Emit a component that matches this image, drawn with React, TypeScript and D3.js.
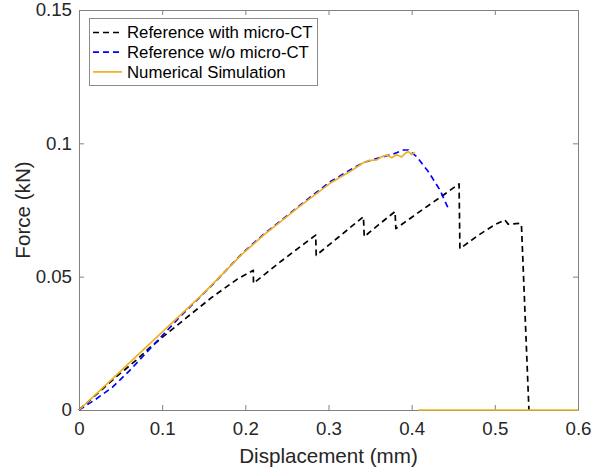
import React, { useRef, useEffect } from "react";
import { select, scaleLinear, line, axisBottom, axisLeft, axisTop, axisRight } from "d3";

// displacement (mm) / force (kN)
const withCtX = [0, 0.02, 0.045, 0.07, 0.084, 0.1, 0.13, 0.16, 0.19, 0.2096, 0.2098, 0.243, 0.2846, 0.2852, 0.31, 0.342, 0.343, 0.36, 0.38, 0.381, 0.41, 0.44, 0.457, 0.458, 0.48, 0.5, 0.512, 0.516, 0.53, 0.532, 0.541];
const withCtF = [0, 0.0056, 0.0125, 0.019, 0.0231, 0.0272, 0.0348, 0.0423, 0.049, 0.0524, 0.0475, 0.0558, 0.0656, 0.058, 0.0643, 0.0725, 0.065, 0.0694, 0.0744, 0.068, 0.0745, 0.081, 0.0848, 0.0605, 0.0655, 0.0695, 0.0713, 0.0697, 0.07, 0.0695, 0];

const noCtX = [0, 0.02, 0.04, 0.06, 0.09, 0.12, 0.16, 0.1955, 0.2216, 0.25, 0.2617, 0.302, 0.326, 0.342, 0.36, 0.378, 0.39, 0.396, 0.406, 0.42, 0.434, 0.444];
const noCtF = [0, 0.004, 0.0085, 0.0145, 0.0245, 0.0345, 0.0468, 0.0585, 0.0658, 0.0728, 0.0758, 0.0856, 0.09, 0.0928, 0.0945, 0.096, 0.0975, 0.0975, 0.095, 0.0894, 0.0825, 0.0756];

const simX = [0, 0.05, 0.1, 0.15, 0.1955, 0.2216, 0.25, 0.2617, 0.3018, 0.3258, 0.342, 0.348, 0.358, 0.364, 0.37, 0.376, 0.382, 0.388, 0.392, 0.396, 0.4, 0.404];
const simF = [0, 0.0146, 0.0292, 0.0438, 0.0583, 0.0655, 0.0725, 0.0755, 0.085, 0.0894, 0.0927, 0.0935, 0.0938, 0.095, 0.0956, 0.0946, 0.0957, 0.0949, 0.0962, 0.0969, 0.0958, 0.0966];
const simTailX = [0.408, 0.6];
const simTailF = [0, 0];

const xTicks = [0, 0.1, 0.2, 0.3, 0.4, 0.5, 0.6];
const yTicks = [0, 0.05, 0.1, 0.15];

const series = [
  { name: "Reference with micro-CT", color: "#000000", dash: "6,4", parts: [[withCtX, withCtF]] },
  { name: "Reference w/o micro-CT", color: "#0000ff", dash: "6,4", parts: [[noCtX, noCtF]] },
  { name: "Numerical Simulation", color: "#edb120", dash: null, parts: [[simX, simF], [simTailX, simTailF]] },
];

const FONT = "'Liberation Sans', Arial, sans-serif";
const TEXT = "#262626";
const AXIS = "#828282";

function App() {
  const svgRef = useRef();

  useEffect(() => {
    const svg = select(svgRef.current);
    svg.selectAll("*").remove();

    const left = 79, right = 578, top = 10, bottom = 410;
    const x = scaleLinear().domain([0, 0.6]).range([left, right]);
    const y = scaleLinear().domain([0, 0.15]).range([bottom, top]);

    const fmt = d => (d === 0 ? "0" : String(+d.toFixed(2)));

    // axes (box with mirrored ticks)
    const gx = svg.append("g").attr("transform", `translate(0,${bottom})`)
      .call(axisBottom(x).tickValues(xTicks).tickFormat(fmt).tickSizeInner(-5).tickSizeOuter(0).tickPadding(12));
    const gy = svg.append("g").attr("transform", `translate(${left},0)`)
      .call(axisLeft(y).tickValues(yTicks).tickFormat(fmt).tickSizeInner(-5).tickSizeOuter(0).tickPadding(7));
    const gt = svg.append("g").attr("transform", `translate(0,${top})`)
      .call(axisTop(x).tickValues(xTicks).tickFormat("").tickSizeInner(-5).tickSizeOuter(0));
    const gr = svg.append("g").attr("transform", `translate(${right},0)`)
      .call(axisRight(y).tickValues(yTicks).tickFormat("").tickSizeInner(-5).tickSizeOuter(0));

    [gx, gy, gt, gr].forEach(g => {
      g.selectAll("path").attr("stroke", AXIS).attr("stroke-width", 1);
      g.selectAll("line").attr("stroke", AXIS).attr("stroke-width", 1);
      g.selectAll("text").attr("fill", TEXT).attr("font-family", FONT).attr("font-size", 18.7);
    });
    gx.selectAll("text").attr("dy", "0.71em");

    const plot = svg.append("g");
    const pathGen = line().x(d => x(d[0])).y(d => y(d[1]));

    series.forEach(s => {
      s.parts.forEach(([xs, fs]) => {
        plot.append("path")
          .datum(xs.map((v, i) => [v, fs[i]]))
          .attr("d", pathGen)
          .attr("fill", "none")
          .attr("stroke", s.color)
          .attr("stroke-width", 1.7)
          .attr("stroke-dasharray", s.dash)
          .attr("stroke-linejoin", "round");
      });
    });

    // axis labels
    svg.append("text")
      .attr("x", (left + right) / 2).attr("y", 463)
      .attr("text-anchor", "middle")
      .attr("font-family", FONT).attr("font-size", 20.6).attr("fill", TEXT)
      .text("Displacement (mm)");
    svg.append("text")
      .attr("transform", `translate(30,${(top + bottom) / 2}) rotate(-90)`)
      .attr("text-anchor", "middle")
      .attr("font-family", FONT).attr("font-size", 20.6).attr("fill", TEXT)
      .text("Force (kN)");

    // legend
    const lg = svg.append("g");
    lg.append("rect")
      .attr("x", 89.5).attr("y", 18.5).attr("width", 228).attr("height", 67)
      .attr("fill", "#fff").attr("stroke", "#8c8c8c").attr("stroke-width", 1);
    series.forEach((s, i) => {
      const ly = 32.5 + i * 19.7;
      lg.append("line")
        .attr("x1", 93).attr("x2", 122).attr("y1", ly).attr("y2", ly)
        .attr("stroke", s.color).attr("stroke-width", 1.7)
        .attr("stroke-dasharray", s.dash);
      lg.append("text")
        .attr("x", 127).attr("y", ly).attr("dy", "0.35em")
        .attr("font-family", FONT).attr("font-size", 16.8).attr("fill", "#000")
        .text(s.name);
    });
  }, []);

  return (
    <div style={{ position: "absolute", left: 0, top: 0 }}>
      <svg ref={svgRef} width={592} height={470} style={{ display: "block", background: "#fff" }}></svg>
    </div>
  );
}

export default App;
